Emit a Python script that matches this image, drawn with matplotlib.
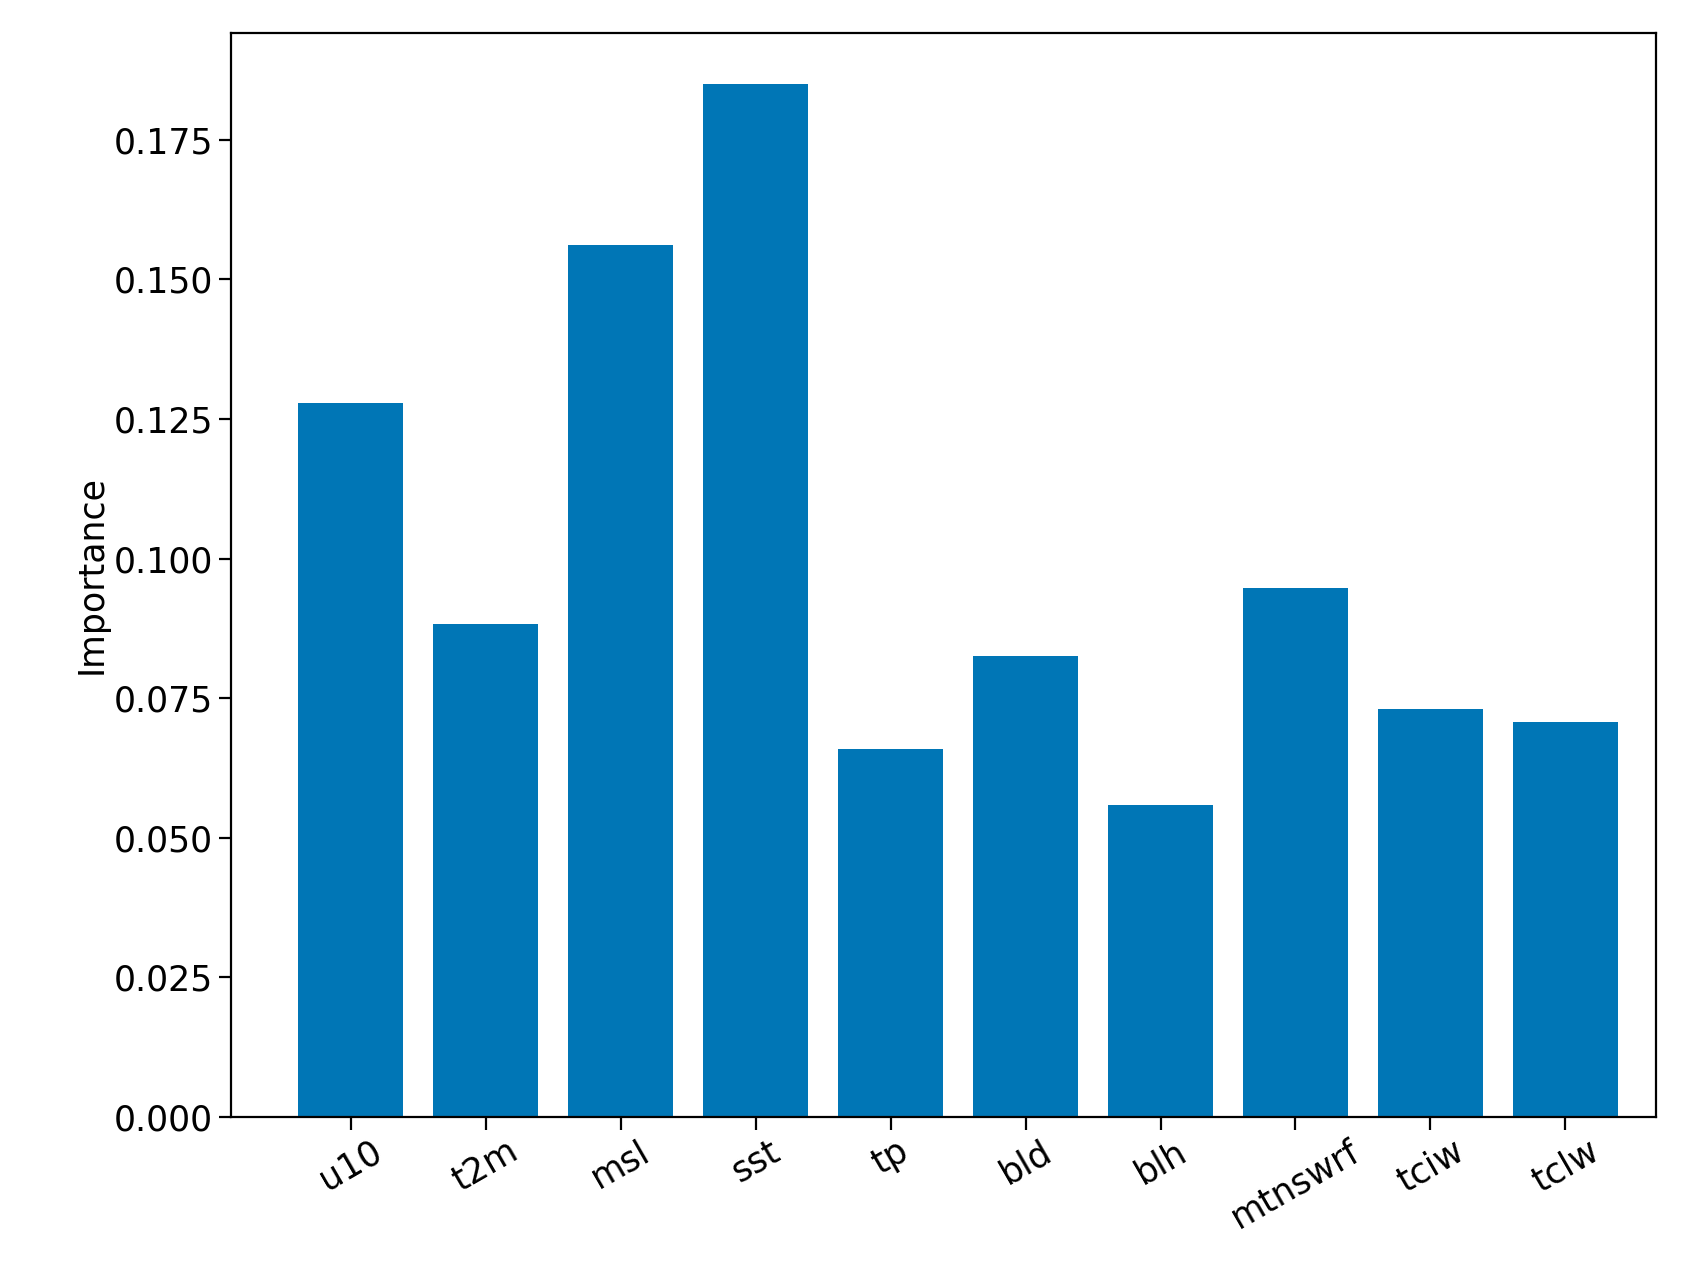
import matplotlib
matplotlib.use("Agg")
import matplotlib.pyplot as plt

features = ["u10", "t2m", "msl", "sst", "tp", "bld", "blh", "mtnswrf", "tciw", "tclw"]
importance = [0.1278, 0.0883, 0.1562, 0.1851, 0.0658, 0.0826, 0.0558, 0.0947, 0.0730, 0.0708]
yticks = [0.000, 0.025, 0.050, 0.075, 0.100, 0.125, 0.150, 0.175]

W, H = 1560, 1165
fig = plt.figure(figsize=(17.05, 12.73), dpi=100)
ax = fig.add_axes([211/W, 1-1022/H, (1515-211)/W, (1022-30)/H])
x = list(range(len(features)))
ax.bar(x, importance, width=0.78, color="#0076B6")
ax.set_xlim(-0.89, 9.67)
ax.set_ylim(0, 0.1942)
ax.set_yticks(yticks)
ax.set_yticklabels([f"{v:.3f}" for v in yticks])
ax.set_xticks(x)
ax.set_xticklabels(features, rotation=30)
ax.tick_params(labelsize=25, length=9, width=1.6)
ax.set_ylabel("Importance", fontsize=25)
for s in ax.spines.values():
    s.set_linewidth(1.6)
fig.savefig("out.png", dpi=100)
